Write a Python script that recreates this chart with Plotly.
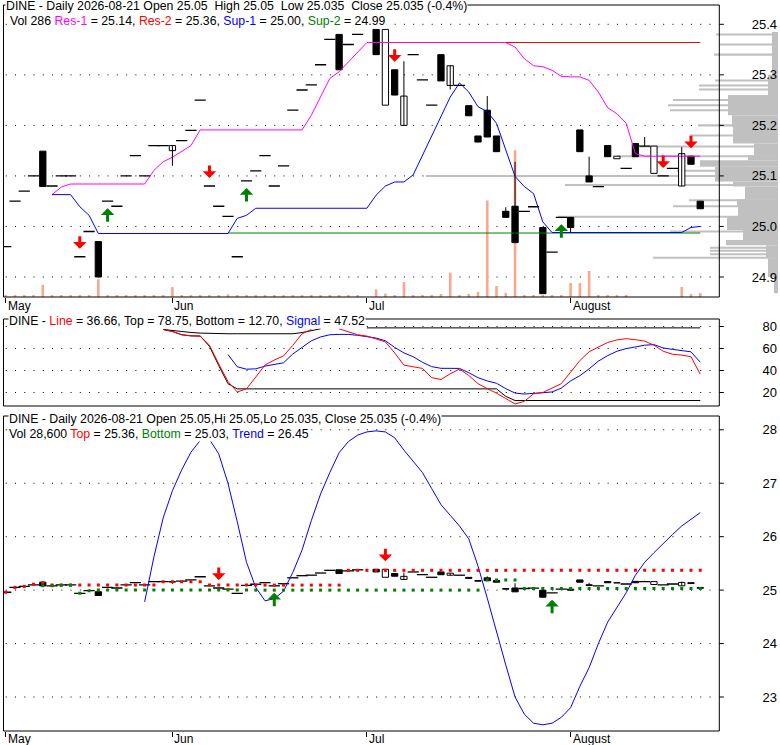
import plotly.graph_objects as go

W, H = 780, 745
FONT = "Liberation Sans, Arial, sans-serif"

# ---------------- data ----------------
day_index = list(range(76))
month_ticks = [0, 18, 39, 61]
month_labels = ["May", "Jun", "Jul", "August"]

opens = [24.96, 25.05, 25.07, 25.10, 25.149, 25.08, 25.10, 25.10, 24.94, 24.99,
         24.97, 25.05, 25.04, 25.10, 25.14, 25.10, 25.16, 25.16, 25.15, 25.17,
         25.19, 25.25, 25.08, 25.04, 25.02, 24.94, 25.09, 25.11, 25.14, 25.08,
         25.12, 25.23, 25.27, 25.28, 25.32, 25.37, 25.38, 25.36, 25.38, None,
         25.39, 25.24, 25.31, 25.20, 25.34, 25.29, 25.24, 25.34, 25.279, 25.279,
         25.239, 25.179, 25.230, 25.179, 25.030, 25.040, 25.030, 25.039, 24.998, 24.949,
         25.018, 25.018, 25.191, 25.100, 25.079, 25.160, 25.134, 25.115, 25.164, 25.159,
         25.105, 25.10, 25.115, 25.080, 25.139, 25.05]
highs = [24.96, 25.05, 25.07, 25.10, 25.149, 25.08, 25.10, 25.10, 24.94, 24.99,
         24.97, 25.05, 25.04, 25.10, 25.14, 25.10, 25.16, 25.16, 25.16, 25.17,
         25.19, 25.25, 25.08, 25.04, 25.02, 24.94, 25.09, 25.11, 25.14, 25.08,
         25.12, 25.23, 25.27, 25.28, 25.32, 25.37, 25.38, 25.36, 25.38, None,
         25.39, 25.39, 25.31, 25.327, 25.34, 25.29, 25.24, 25.34, 25.318, 25.279,
         25.239, 25.179, 25.258, 25.179, 25.038, 25.128, 25.030, 25.039, 24.998, 24.949,
         25.018, 25.018, 25.191, 25.138, 25.079, 25.160, 25.139, 25.115, 25.164, 25.177,
         25.159, 25.10, 25.115, 25.157, 25.139, 25.05]
lows = [24.96, 25.05, 25.07, 25.10, 25.079, 25.08, 25.10, 25.10, 24.94, 24.99,
        24.90, 25.05, 25.04, 25.10, 25.14, 25.10, 25.16, 25.16, 25.12, 25.17,
        25.19, 25.25, 25.08, 25.04, 25.02, 24.94, 25.09, 25.11, 25.14, 25.08,
        25.12, 25.23, 25.27, 25.28, 25.32, 25.37, 25.31, 25.36, 25.38, None,
        25.34, 25.24, 25.26, 25.20, 25.34, 25.29, 25.24, 25.288, 25.271, 25.279,
        25.219, 25.167, 25.177, 25.148, 25.018, 24.968, 25.030, 25.039, 24.867, 24.949,
        25.018, 24.988, 25.148, 25.088, 25.079, 25.138, 25.134, 25.115, 25.138, 25.159,
        25.105, 25.10, 25.115, 25.080, 25.123, 25.035]
closes = [24.96, 25.05, 25.07, 25.10, 25.079, 25.08, 25.10, 25.10, 24.94, 24.99,
          24.90, 25.05, 25.04, 25.10, 25.14, 25.10, 25.16, 25.16, 25.16, 25.17,
          25.19, 25.25, 25.08, 25.04, 25.02, 24.94, 25.09, 25.11, 25.14, 25.08,
          25.12, 25.23, 25.27, 25.28, 25.32, 25.37, 25.31, 25.36, 25.38, None,
          25.34, 25.39, 25.26, 25.258, 25.34, 25.29, 25.24, 25.288, 25.318, 25.279,
          25.219, 25.167, 25.177, 25.148, 25.018, 24.968, 25.030, 25.039, 24.867, 24.949,
          25.018, 24.998, 25.148, 25.088, 25.079, 25.138, 25.139, 25.115, 25.138, 25.159,
          25.159, 25.10, 25.115, 25.144, 25.123, 25.035]
volume = [100, 100, 100, 100, 860, 100, 100, 100, 100, 100,
          1270, 100, 100, 100, 100, 100, 100, 100, 715, 100,
          100, 100, 100, 100, 190, 100, 100, 100, 100, 100,
          100, 100, 100, 100, 100, 100, 100, 100, 100, 0,
          550, 240, 100, 1070, 100, 100, 100, 215, 1740, 100,
          215, 360, 6900, 790, 290, 10500, 100, 100, 100, 100,
          100, 1000, 1000, 1860, 100, 100, 100, 100, 0, 0,
          0, 0, 0, 715, 215, 286]

res1 = [None, None, None, None, None, 25.063, 25.078, 25.084, 25.084, 25.084,
        25.084, 25.084, 25.084, 25.084, 25.084, 25.084, 25.111, 25.128, 25.137, 25.148,
        25.160, 25.191, 25.191, 25.191, 25.191, 25.191, 25.191, 25.191, 25.191, 25.191,
        25.191, 25.191, 25.191, 25.220, 25.256, 25.293, 25.306, 25.326, 25.345, 25.364,
        25.364, 25.364, 25.364, 25.364, 25.364, 25.364, 25.364, 25.364, 25.364, 25.364,
        25.364, 25.364, 25.364, 25.364, 25.364, 25.355, 25.332, 25.318, 25.316, 25.309,
        25.297, 25.296, 25.296, 25.289, 25.266, 25.235, 25.223, 25.204, 25.144, 25.139,
        25.139, 25.139, 25.139, 25.139, 25.139, 25.139]
res2 = [None, None, None, None, None, None, None, None, None, None,
        None, None, None, None, None, None, None, None, None, None,
        None, None, None, None, None, None, None, None, None, None,
        None, None, None, None, None, None, None, None, None, None,
        None, None, None, None, None, None, None, None, None, None,
        None, None, None, None, 25.364, 25.364, 25.364, 25.364, 25.364, 25.364,
        25.364, 25.364, 25.364, 25.364, 25.364, 25.364, 25.364, 25.364, 25.364, 25.364,
        25.364, 25.364, 25.364, 25.364, 25.364, 25.364]
sup1 = [None, None, None, None, None, 25.063, 25.063, 25.063, 25.039, 25.022,
        24.986, 24.986, 24.986, 24.986, 24.986, 24.986, 24.986, 24.986, 24.986, 24.986,
        24.986, 24.986, 24.986, 24.986, 24.986, 25.016, 25.022, 25.036, 25.036, 25.036,
        25.036, 25.036, 25.036, 25.036, 25.036, 25.036, 25.036, 25.036, 25.036, 25.036,
        25.062, 25.080, 25.088, 25.088, 25.102, 25.141, 25.181, 25.217, 25.256, 25.284,
        25.266, 25.237, 25.227, 25.204, 25.151, 25.099, 25.079, 25.065, 25.009, 24.988,
        24.988, 24.988, 24.988, 24.988, 24.988, 24.988, 24.988, 24.988, 24.988, 24.988,
        24.988, 24.988, 24.988, 24.988, 24.998, 25.000]
sup2 = [None, None, None, None, None, None, None, None, None, None,
        None, None, None, None, None, None, None, None, None, None,
        None, None, None, None, 24.987, 24.987, 24.987, 24.987, 24.987, 24.987,
        24.987, 24.987, 24.987, 24.987, 24.987, 24.987, 24.987, 24.987, 24.987, 24.987,
        24.987, 24.987, 24.987, 24.987, 24.987, 24.987, 24.987, 24.987, 24.987, 24.987,
        24.987, 24.987, 24.987, 24.987, 24.987, 24.987, 24.987, 24.987, 24.987, 24.987,
        24.987, 24.987, 24.987, 24.987, 24.987, 24.987, 24.987, 24.987, 24.987, 24.987,
        24.987, 24.987, 24.987, 24.987, 24.987, 24.987]

top_sell_days = [8, 22, 42, 71, 74]
top_buy_days = [11, 26, 60]

# volume-at-price profile (price bins and volume)
block_lo = [25.300, 25.260, 25.220, 25.197, 25.164, 25.141, 25.131, 25.118, 25.102, 25.089,
            25.079, 25.054, 25.039, 25.019, 24.993, 24.973, 24.963, 24.937, 24.900, 24.868]
block_hi = [25.385, 25.300, 25.260, 25.220, 25.197, 25.164, 25.141, 25.131, 25.118, 25.102,
            25.089, 25.079, 25.054, 25.039, 25.019, 24.993, 24.973, 24.963, 24.937, 24.900]
block_vol = [6, 10, 50, 46, 45, 24, 30, 78, 63, 63,
             45, 33, 41, 40, 51, 35, 52, 12, 10, 4]
level_price = [25.380, 25.360, 25.340, 25.289, 25.279, 25.271, 25.250, 25.240, 25.230, 25.200,
               25.180, 25.158, 25.139, 25.110, 25.100, 25.082, 25.052, 25.040, 25.019, 24.990,
               24.958, 24.952, 24.945, 24.938]
level_vol = [62, 58, 64, 63, 79, 79, 105, 110, 108, 80,
             88, 138, 161, 101, 352, 213, 89, 105, 220, 108,
             68, 68, 68, 125]

# oscillator panel
osc_line = [None, None, None, None, None, None, None, None, None, None,
            None, None, None, None, None, None, None, 77.3, 75.5, 72.5,
            71.5, 71.3, 63.0, 46.0, 30.0, 20.5, 23.3, 34.0, 45.0, 49.5,
            53.3, 62.9, 73.4, 77.3, None, None, 77.9, 75.0, 72.5, 71.3,
            69.0, 66.0, 56.0, 44.9, 43.4, 41.9, 33.5, 31.8, 37.0, 41.3,
            35.5, 28.0, 23.5, 19.4, 14.5, 9.6, 11.9, 18.8, 20.0, 24.0,
            28.0, 38.5, 49.0, 57.0, 61.0, 65.5, 67.8, 68.9, 68.0, 66.7,
            63.0, 57.5, 54.8, 54.0, 52.5, 36.66]
osc_signal = [None, None, None, None, None, None, None, None, None, None,
              None, None, None, None, None, None, None, None, None, None,
              None, None, None, None, 54.5, 43.4, 41.2, 41.5, 44.0, 45.5,
              47.0, 55.0, 61.0, 67.0, 70.5, 72.5, 72.8, 72.8, 72.0, 71.0,
              69.5, 67.0, 61.0, 56.0, 52.5, 47.5, 43.5, 42.0, 42.0, 41.9,
              38.0, 33.5, 30.5, 28.4, 23.5, 19.5, 18.6, 19.0, 19.8, 20.5,
              24.0, 30.5, 35.3, 41.5, 48.5, 53.5, 57.5, 59.9, 61.5, 63.0,
              63.5, 60.5, 59.2, 58.0, 57.0, 47.52]
osc_top = [None, None, None, None, None, None, None, None, None, None,
           None, None, None, None, None, None, None, 77.3, 76.3, 75.3,
           74.6, 74.0, 73.6, 73.4, 73.4, 73.4, 73.4, 73.4, 73.4, 73.4,
           73.4, 73.4, 74.5, 76.5, 77.9, None, None, None, None, 78.75,
           78.75, 78.75, 78.75, 78.75, 78.75, 78.75, 78.75, 78.75, 78.75, 78.75,
           78.75, 78.75, 78.75, 78.75, 78.75, 78.75, 78.75, 78.75, 78.75, 78.75,
           78.75, 78.75, 78.75, 78.75, 78.75, 78.75, 78.75, 78.75, 78.75, 78.75,
           78.75, 78.75, 78.75, 78.75, 78.75, 78.75]
osc_bottom = [None, None, None, None, None, None, None, None, None, None,
              None, None, None, None, None, None, None, 77.3, 75.5, 72.5,
              71.5, 71.3, 62.0, 44.5, 28.0, 23.3, 23.3, 23.3, 23.3, 23.3,
              23.3, 23.3, 23.3, 23.3, 23.3, 23.3, 23.3, 23.3, 23.3, 23.3,
              23.3, 23.3, 23.3, 23.3, 23.3, 23.3, 23.3, 23.3, 23.3, 23.3,
              23.3, 23.3, 23.3, 23.3, 16.5, 12.7, 12.7, 12.7, 12.7, 12.7,
              12.7, 12.7, 12.7, 12.7, 12.7, 12.7, 12.7, 12.7, 12.7, 12.7,
              12.7, 12.7, 12.7, 12.7, 12.7, 12.7]

# trend panel
trend = [None, None, None, None, None, None, None, None, None, None,
         None, None, None, None, None, 24.78, 25.62, 26.35, 26.86, 27.25,
         27.58, 27.80, 27.82, 27.55, 27.00, 26.28, 25.52, 25.05, 24.80, 24.84,
         24.98, 25.33, 25.75, 26.30, 26.80, 27.20, 27.57, 27.78, 27.90, 27.96,
         27.98, 27.96, 27.85, 27.62, 27.40, 27.20, 26.90, 26.60, 26.40, 26.20,
         25.96, 25.45, 24.85, 24.20, 23.60, 23.00, 22.68, 22.51, 22.48, 22.51,
         22.62, 22.80, 23.20, 23.55, 24.00, 24.40, 24.68, 24.95, 25.28, 25.52,
         25.70, 25.88, 26.04, 26.20, 26.33, 26.45]
trend_top = [24.96, 25.05, 25.07, 25.11, 25.14, 25.094, 25.094, 25.094, 25.094, 25.094,
             25.094, 25.094, 25.094, 25.094, 25.094, 25.094, 25.094, 25.155, 25.155, 25.155,
             25.155, 25.155, 25.094, 25.094, 25.094, 25.094, 25.094, 25.094, 25.094, 25.094,
             25.094, 25.094, 25.094, 25.094, 25.094, 25.094, 25.094, 25.37, 25.37, 25.37,
             25.37, 25.37, 25.37, 25.37, 25.37, 25.37, 25.37, 25.37, 25.37, 25.37,
             25.37, 25.37, 25.37, 25.37, 25.37, 25.37, 25.37, 25.37, 25.37, 25.37,
             25.37, 25.37, 25.37, 25.37, 25.37, 25.37, 25.37, 25.37, 25.37, 25.37,
             25.37, 25.37, 25.37, 25.37, 25.37, 25.37]
trend_bottom = [None, None, None, None, 25.08, 25.08, 25.09, 25.09, 24.94, 24.99,
                25.00, 25.00, 25.00, 25.00, 25.00, 25.00, 25.00, 25.00, 25.00, 25.00,
                25.00, 25.00, 25.00, 25.00, 25.00, 25.00, 25.00, 25.00, 25.00, 25.00,
                25.00, 25.00, 25.00, 25.00, 25.00, 25.00, 25.00, 25.00, 25.00, 25.00,
                25.00, 25.00, 25.00, 25.00, 25.00, 25.00, 25.00, 25.00, 25.00, 25.00,
                25.00, 25.00, 25.19, 25.19, 25.19, 25.19, 25.03, 25.03, 25.03, 25.03,
                25.03, 25.03, 25.03, 25.03, 25.03, 25.03, 25.03, 25.03, 25.03, 25.03,
                25.03, 25.03, 25.03, 25.03, 25.03, 25.03]
bot_sell_days = [23, 41]
bot_buy_days = [29, 59]

top_ticks = [24.9, 25.0, 25.1, 25.2, 25.3, 25.4]
top_tick_text = ["24.9", "25.0", "25.1", "25.2", "25.3", "25.4"]
mid_ticks = [20, 40, 60, 80]
bot_ticks = [23, 24, 25, 26, 27, 28]

# ---------------- layout geometry ----------------
LX = 3.5 / W
RX = 719.3 / W
RX_FULL = 778 / W
top_dom = [1 - 297 / H, 1 - 5 / H]
mid_dom = [1 - 406 / H, 1 - 319 / H]
bot_dom = [1 - 731 / H, 1 - 416 / H]
PX_PER_DAY = 9.26
X0PX = 5.74
x_lo = (3.5 - X0PX) / PX_PER_DAY
x_hi = (719.3 - X0PX) / PX_PER_DAY
x_hi_full = (778 - X0PX) / PX_PER_DAY

RED = "#FF0000"
GREEN = "#008000"
BLUE = "#0000FF"
MAGENTA = "#FF00FF"
SALMON = "#F8A88C"
GRAY = "#C0C0C0"

fig = go.Figure()

# base subplot (x = profile scale, y = volume scale); dummy to register it
fig.add_trace(go.Scatter(x=[], y=[], xaxis="x", yaxis="y", showlegend=False, hoverinfo="skip"))

# volume-at-price profile (drawn first, under everything)
prof_y = [(a + b) / 2 for a, b in zip(block_lo, block_hi)] + level_price
prof_w = [b - a for a, b in zip(block_lo, block_hi)] + [0.004] * len(level_price)
prof_x = block_vol + level_vol
fig.add_trace(go.Bar(y=prof_y, x=prof_x, width=prof_w, orientation="h",
                     marker=dict(color=GRAY, line=dict(width=0)),
                     xaxis="x", yaxis="y2", showlegend=False, hoverinfo="skip"))

# volume bars
fig.add_trace(go.Bar(x=day_index, y=volume, width=0.28,
                     marker=dict(color=SALMON, line=dict(width=0)),
                     xaxis="x5", yaxis="y", showlegend=False, hoverinfo="skip"))

# support / resistance lines
for series, col in [(sup2, GREEN), (res1, MAGENTA), (res2, RED), (sup1, BLUE)]:
    fig.add_trace(go.Scatter(x=day_index, y=series, mode="lines",
                             line=dict(color=col, width=1),
                             xaxis="x5", yaxis="y2", showlegend=False, hoverinfo="skip"))


def add_candles(xa, ya):
    wx, wy = [], []
    up_x, up_b, up_h = [], [], []
    dn_x, dn_b, dn_h = [], [], []
    dash_x, dash_y = [], []
    for i, o, h, l, c in zip(day_index, opens, highs, lows, closes):
        if o is None:
            continue
        if h > max(o, c) or l < min(o, c):
            wx += [i, i, None]
            wy += [l, h, None]
        if c > o:
            up_x.append(i); up_b.append(o); up_h.append(c - o)
        elif c < o:
            dn_x.append(i); dn_b.append(c); dn_h.append(o - c)
        else:
            dash_x.append(i); dash_y.append(c)
    fig.add_trace(go.Scatter(x=wx, y=wy, mode="lines", line=dict(color="black", width=1),
                             xaxis=xa, yaxis=ya, showlegend=False, hoverinfo="skip"))
    fig.add_trace(go.Bar(x=up_x, y=up_h, base=up_b, width=0.68,
                         marker=dict(color="white", line=dict(color="black", width=1)),
                         xaxis=xa, yaxis=ya, showlegend=False, hoverinfo="skip"))
    fig.add_trace(go.Bar(x=dn_x, y=dn_h, base=dn_b, width=0.68,
                         marker=dict(color="black", line=dict(color="black", width=1)),
                         xaxis=xa, yaxis=ya, showlegend=False, hoverinfo="skip"))
    fig.add_trace(go.Scatter(x=dash_x, y=dash_y, mode="markers",
                             marker=dict(symbol="line-ew", size=8,
                                         line=dict(color="black", width=1.3)),
                             xaxis=xa, yaxis=ya, showlegend=False, hoverinfo="skip"))


add_candles("x5", "y2")

# ---- oscillator panel ----
for series, col in [(osc_top, "black"), (osc_bottom, "black"), (osc_signal, BLUE), (osc_line, RED)]:
    fig.add_trace(go.Scatter(x=day_index, y=series, mode="lines",
                             line=dict(color=col, width=1),
                             xaxis="x2", yaxis="y3", showlegend=False, hoverinfo="skip"))

# ---- trend panel ----
add_candles("x3", "y4")
fig.add_trace(go.Scatter(x=day_index, y=trend, mode="lines", line=dict(color=BLUE, width=1),
                         xaxis="x3", yaxis="y4", showlegend=False, hoverinfo="skip"))
fig.add_trace(go.Scatter(x=day_index, y=trend_top, mode="markers",
                         marker=dict(symbol="square", size=3, color=RED, line=dict(width=0)),
                         xaxis="x3", yaxis="y4", showlegend=False, hoverinfo="skip"))
fig.add_trace(go.Scatter(x=day_index, y=trend_bottom, mode="markers",
                         marker=dict(symbol="square", size=3, color=GREEN, line=dict(width=0)),
                         xaxis="x3", yaxis="y4", showlegend=False, hoverinfo="skip"))

# ---------------- axes ----------------
hidden = dict(visible=False, fixedrange=True)
ylab = dict(anchor="free", position=1.0, side="right", ticklabelposition="inside",
            ticks="", showgrid=False, zeroline=False, showline=False, fixedrange=True,
            tickfont=dict(family=FONT, size=13, color="black"))
fig.update_layout(
    width=W, height=H, margin=dict(l=0, r=0, t=0, b=0),
    paper_bgcolor="white", plot_bgcolor="rgba(0,0,0,0)",
    barmode="overlay", showlegend=False, hovermode=False,
    font=dict(family=FONT, size=12, color="black"),
    xaxis=dict(domain=[LX, RX_FULL], range=[778 - 3.5, 0], anchor="y", **hidden),
    yaxis=dict(domain=top_dom, range=[0, 20878], anchor="x", **hidden),
    xaxis5=dict(overlaying="x", anchor="y", range=[x_lo, x_hi_full],
                tickvals=month_ticks, showticklabels=False, ticks="outside", ticklen=5,
                tickcolor="black", showgrid=False, zeroline=False, showline=False, fixedrange=True),
    yaxis2=dict(overlaying="y", range=[24.8604, 25.4382], tickvals=top_ticks,
                ticktext=top_tick_text, **ylab),
    xaxis2=dict(domain=[LX, RX], anchor="y3", range=[x_lo, x_hi], showticklabels=False,
                ticks="", showgrid=False, zeroline=False, showline=False, fixedrange=True),
    yaxis3=dict(domain=mid_dom, range=[7.73, 86.82], tickvals=mid_ticks, **ylab),
    xaxis3=dict(domain=[LX, RX], anchor="y4", range=[x_lo, x_hi],
                tickvals=month_ticks, showticklabels=False, ticks="outside", ticklen=5,
                tickcolor="black", showgrid=False, zeroline=False, showline=False, fixedrange=True),
    yaxis4=dict(domain=bot_dom, range=[22.364, 28.258], tickvals=bot_ticks, **ylab),
)

# ---------------- shapes: frames, dotted grids, right tick marks ----------------
shapes = []
for dom in (top_dom, mid_dom, bot_dom):
    shapes.append(dict(type="rect", xref="paper", yref="paper", x0=LX, x1=RX, y0=dom[0], y1=dom[1],
                       line=dict(color="black", width=1), fillcolor="rgba(0,0,0,0)", layer="above"))
for xa, ya, ticks in (("x5", "y2", top_ticks), ("x2", "y3", mid_ticks), ("x3", "y4", bot_ticks)):
    for v in ticks:
        shapes.append(dict(type="line", xref=xa, yref=ya, x0=0, x1=76.9, y0=v, y1=v,
                           line=dict(color="black", width=1, dash="1px,8.26px"), layer="below"))
        shapes.append(dict(type="line", xref="paper", yref=ya, x0=RX, x1=RX + 4.5 / W, y0=v, y1=v,
                           line=dict(color="black", width=1), layer="above"))
fig.update_layout(shapes=shapes)

# ---------------- annotations ----------------
ann = []


def txt(x_px, y_px, text, size=12.3):
    ann.append(dict(xref="paper", yref="paper", x=x_px / W, y=1 - y_px / H, text=text,
                    showarrow=False, xanchor="left", yanchor="middle", bgcolor="white",
                    borderpad=0, font=dict(family=FONT, size=size, color="black")))


def col(t, c):
    return '<span style="color:%s">%s</span>' % (c, t)


NB = "\u00a0"
txt(5, 6.5, "DINE - Daily 2026-08-21 Open 25.05" + NB + " High 25.05" + NB + " Low 25.035"
    + NB + " Close 25.035 (-0.4%)")
txt(9, 21, "Vol 286 " + col("Res-1", MAGENTA) + " = 25.14, " + col("Res-2", RED) + " = 25.36, "
    + col("Sup-1", BLUE) + " = 25.00, " + col("Sup-2", GREEN) + " = 24.99")
txt(8, 321, "DINE - " + col("Line", RED) + " = 36.66, Top = 78.75, Bottom = 12.70, "
    + col("Signal", BLUE) + " = 47.52")
txt(8, 419, "DINE - Daily 2026-08-21 Open 25.05,Hi 25.05,Lo 25.035, Close 25.035 (-0.4%)")
txt(8, 433.5, "Vol 28,600 " + col("Top", RED) + " = 25.36, " + col("Bottom", GREEN)
    + " = 25.03, " + col("Trend", BLUE) + " = 26.45")

for xa, y_px in (("x5", 306), ("x3", 738.5)):
    for tv, tl in zip(month_ticks, month_labels):
        ann.append(dict(xref=xa, yref="paper", x=tv, y=1 - y_px / H, text=tl, showarrow=False,
                        xanchor="left", yanchor="middle", xshift=1, borderpad=0,
                        font=dict(family=FONT, size=12, color="black")))


def arrow(xa, ya, day, sell):
    ann.append(dict(xref=xa, yref=ya, x=day, y=highs[day] if sell else lows[day], text="",
                    showarrow=True, arrowhead=1, arrowsize=0.75, arrowwidth=3,
                    arrowcolor=RED if sell else GREEN, ax=0, ay=-22 if sell else 22,
                    standoff=8 if sell else 7))


for d in top_sell_days:
    arrow("x5", "y2", d, True)
for d in top_buy_days:
    arrow("x5", "y2", d, False)
for d in bot_sell_days:
    arrow("x3", "y4", d, True)
for d in bot_buy_days:
    arrow("x3", "y4", d, False)

fig.update_layout(annotations=ann)

fig.write_html("out.html", config={"displayModeBar": False},
               post_script="document.body.style.margin='0px';document.body.style.overflow='hidden';")
